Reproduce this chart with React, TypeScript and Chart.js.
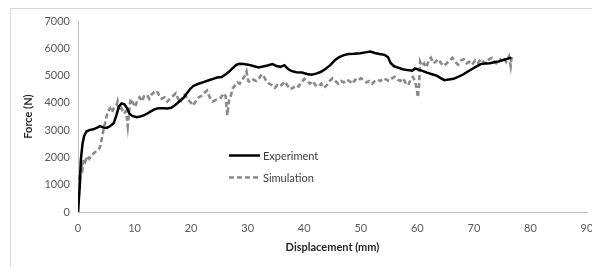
import React, { useEffect, useRef } from "react";
import { Chart, registerables } from "chart.js";

Chart.register(...registerables);

const expX = [0, 0.3, 0.5, 0.8, 1.1, 1.5, 2.0, 2.7, 3.3, 3.9, 4.5, 5.1, 5.7, 6.3, 6.8, 7.2, 7.7, 8.2, 8.7, 9.1, 9.6, 10.4, 11.0, 11.6, 12.2, 12.8, 13.5, 14.2, 15.0, 15.8, 16.5, 17.2, 17.9, 18.6, 19.2, 19.8, 20.4, 21.2, 22.2, 23.0, 23.9, 24.6, 25.4, 26.2, 26.9, 27.5, 28.0, 28.5, 29.3, 30.1, 31.0, 31.9, 32.7, 33.5, 34.4, 35.1, 35.8, 36.5, 37.1, 37.7, 38.6, 39.6, 40.5, 41.3, 42.1, 42.9, 43.8, 44.6, 45.4, 46.2, 47.0, 47.8, 48.8, 49.9, 50.8, 51.7, 52.5, 53.3, 54.2, 54.8, 55.3, 55.9, 56.6, 57.4, 58.3, 59.1, 59.6, 60.2, 60.9, 61.7, 62.6, 63.5, 64.2, 64.8, 65.6, 66.4, 67.2, 68.0, 68.8, 69.6, 70.4, 71.2, 72.0, 72.8, 73.6, 74.4, 75.2, 76.0, 76.6];
const expF = [0, 900, 1900, 2500, 2800, 2950, 3000, 3030, 3080, 3150, 3100, 3080, 3150, 3250, 3550, 3850, 3980, 3950, 3800, 3600, 3520, 3470, 3500, 3540, 3600, 3680, 3760, 3800, 3800, 3790, 3820, 3920, 4050, 4170, 4330, 4500, 4620, 4690, 4760, 4820, 4880, 4930, 4950, 5060, 5180, 5300, 5390, 5430, 5420, 5400, 5350, 5300, 5330, 5370, 5420, 5350, 5320, 5380, 5250, 5170, 5120, 5110, 5060, 5030, 5070, 5130, 5250, 5380, 5560, 5680, 5750, 5790, 5800, 5820, 5850, 5880, 5830, 5790, 5760, 5680, 5450, 5340, 5290, 5230, 5200, 5180, 5260, 5220, 5170, 5110, 5050, 4990, 4900, 4830, 4860, 4880, 4950, 5030, 5130, 5230, 5330, 5420, 5440, 5450, 5490, 5520, 5570, 5620, 5650];

const simX = [0, 0.2, 0.4, 0.6, 0.8, 1.0, 1.3, 1.6, 2.0, 2.4, 2.8, 3.3, 3.7, 4.0, 4.3, 4.6, 5.0, 5.3, 5.7, 6.0, 6.4, 6.8, 7.0, 7.3, 7.7, 8.1, 8.5, 8.8, 9.0, 9.3, 9.7, 10.1, 10.5, 10.9, 11.3, 11.7, 12.2, 12.6, 13.0, 13.5, 13.9, 14.3, 14.8, 15.3, 15.8, 16.3, 16.8, 17.3, 17.7, 18.1, 18.5, 18.9, 19.3, 19.8, 20.3, 20.8, 21.3, 21.8, 22.3, 22.8, 23.3, 23.8, 24.3, 24.8, 25.3, 25.7, 26.1, 26.4, 26.7, 27.0, 27.4, 27.8, 28.2, 28.6, 29.0, 29.4, 29.8, 30.1, 30.5, 31.0, 31.5, 32.0, 32.5, 32.9, 33.3, 33.8, 34.3, 34.8, 35.2, 35.7, 36.2, 36.6, 37.0, 37.5, 38.0, 38.5, 39.0, 39.5, 40.0, 40.5, 41.0, 41.5, 42.0, 42.5, 43.0, 43.5, 44.0, 44.5, 45.0, 45.5, 46.0, 46.5, 47.0, 47.5, 48.0, 48.5, 49.0, 49.5, 50.0, 50.5, 51.0, 51.5, 52.0, 52.5, 53.0, 53.5, 54.0, 54.5, 55.0, 55.5, 56.0, 56.5, 57.0, 57.5, 58.0, 58.4, 58.8, 59.2, 59.6, 59.9, 60.1, 60.3, 60.5, 60.8, 61.2, 61.6, 62.0, 62.4, 62.8, 63.2, 63.7, 64.2, 64.7, 65.2, 65.7, 66.2, 66.7, 67.2, 67.7, 68.2, 68.7, 69.2, 69.7, 70.2, 70.7, 71.2, 71.7, 72.2, 72.7, 73.2, 73.7, 74.2, 74.7, 75.2, 75.7, 76.2, 76.5, 76.7];
const simF = [0, 1400, 1250, 1750, 1600, 1950, 1850, 2050, 1950, 2100, 2150, 2250, 2300, 2450, 2800, 3100, 3450, 3700, 3800, 3650, 3850, 3900, 4050, 3700, 3800, 3600, 3700, 3150, 3600, 4150, 4000, 3850, 4100, 4200, 4050, 4250, 4300, 4150, 4300, 4400, 4450, 4300, 4150, 4200, 4050, 4150, 4250, 4350, 4150, 4000, 4250, 4300, 4150, 4050, 3900, 4050, 4200, 4250, 4350, 4450, 4200, 4050, 4100, 4150, 4200, 4350, 4250, 3550, 4100, 4250, 4550, 4650, 4750, 4700, 4850, 4950, 5150, 4800, 4750, 4850, 4800, 4900, 5050, 4950, 4800, 4700, 4650, 4550, 4650, 4600, 4700, 4780, 4650, 4500, 4550, 4650, 4600, 4750, 4880, 4800, 4700, 4800, 4650, 4600, 4700, 4550, 4650, 4800, 4900, 4800, 4700, 4800, 4750, 4850, 4800, 4700, 4850, 4800, 4900, 4850, 4750, 4800, 4700, 4800, 4850, 4800, 4900, 4850, 4800, 4900, 4950, 4850, 4800, 4900, 4700, 4650, 4850, 4950, 4800, 4500, 4200, 4650, 5500, 5350, 5450, 5300, 5550, 5650, 5450, 5500, 5600, 5450, 5350, 5450, 5550, 5650, 5500, 5400, 5550, 5600, 5450, 5500, 5400, 5550, 5450, 5600, 5500, 5450, 5600, 5650, 5500, 5400, 5600, 5650, 5500, 5700, 5350, 5750];

const seriesNames = ["Experiment", "Simulation"];
const xTitle = "Displacement (mm)";
const yTitle = "Force (N)";

const FONT = "Lato, 'Open Sans', sans-serif";

export default function App() {
  const ref = useRef<HTMLCanvasElement | null>(null);

  useEffect(() => {
    if (!ref.current) return;
    const legendPlugin = {
      id: "customLegend",
      afterDraw(chart: any) {
        const ctx = chart.ctx;
        const items = [
          { y: 155.5, color: "#000000", dash: [] as number[], width: 2.5 },
          { y: 177.5, color: "#8a8a8a", dash: [5, 3], width: 2.5 },
        ];
        ctx.save();
        items.forEach((it, i) => {
          ctx.beginPath();
          ctx.setLineDash(it.dash);
          ctx.strokeStyle = it.color;
          ctx.lineWidth = it.width;
          ctx.moveTo(229, it.y);
          ctx.lineTo(260, it.y);
          ctx.stroke();
          ctx.setLineDash([]);
          ctx.fillStyle = "#404040";
          ctx.font = `11px ${FONT}`;
          ctx.textBaseline = "middle";
          ctx.textAlign = "left";
          ctx.fillText(seriesNames[i], 263, it.y + 1);
        });
        ctx.restore();
      },
    };

    const chart = new Chart(ref.current, {
      type: "line",
      data: {
        datasets: [
          {
            label: seriesNames[0],
            data: expX.map((x, i) => ({ x, y: expF[i] })),
            borderColor: "#000000",
            borderWidth: 2.5,
            pointRadius: 0,
            tension: 0,
            fill: false,
          },
          {
            label: seriesNames[1],
            data: simX.map((x, i) => ({ x, y: simF[i] })),
            borderColor: "#8a8a8a",
            borderWidth: 2.6,
            borderDash: [5, 3],
            pointRadius: 0,
            tension: 0,
            fill: false,
          },
        ],
      },
      options: {
        animation: false,
        responsive: false,
        layout: { padding: { top: 21, right: 5, left: 0, bottom: 0 } },
        plugins: { legend: { display: false }, tooltip: { enabled: false } },
        scales: {
          x: {
            type: "linear",
            min: 0,
            max: 90,
            ticks: {
              stepSize: 10,
              color: "#595959",
              font: { family: FONT, size: 11 },
              padding: 10,
              maxRotation: 0,
              callback: (v: any) => String(v),
            },
            grid: { drawOnChartArea: false, drawTicks: false },
            border: { color: "#bfbfbf", width: 1 },
            title: {
              display: true,
              text: xTitle,
              color: "#262626",
              font: { family: FONT, size: 11, weight: "bold" },
              padding: { top: 0, bottom: 13 },
            },
            afterFit: (s: any) => {
              s.height = 55;
              s.paddingRight = 0;
              s.paddingLeft = 0;
            },
          },
          y: {
            min: 0,
            max: 7000,
            ticks: {
              stepSize: 1000,
              color: "#595959",
              font: { family: FONT, size: 11 },
              padding: 8,
              callback: (v: any) => String(v),
            },
            grid: { drawOnChartArea: false, drawTicks: false },
            border: { color: "#bfbfbf", width: 1 },
            title: {
              display: true,
              text: yTitle,
              color: "#262626",
              font: { family: FONT, size: 11, weight: "bold" },
              padding: { top: 22, bottom: 0 },
            },
            afterFit: (s: any) => {
              s.width = 78;
              s.paddingTop = 0;
              s.paddingBottom = 0;
            },
          },
        },
      },
      plugins: [legendPlugin],
    });
    return () => chart.destroy();
  }, []);

  return (
    <div style={{ position: "fixed", left: 0, top: 0, width: 592, height: 267, background: "#ffffff", overflow: "hidden" }}>
      <div
        style={{
          position: "absolute",
          left: 10,
          top: 8,
          width: 700,
          height: 400,
          border: "1px solid #d9d9d9",
        }}
      />
      <canvas ref={ref} width={592} height={267} style={{ position: "absolute", left: 0, top: 0, display: "block" }} />
    </div>
  );
}
